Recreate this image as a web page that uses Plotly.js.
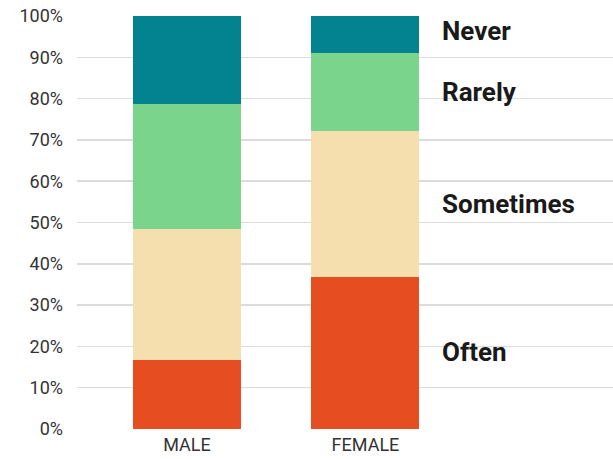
<!DOCTYPE html>
<html><head><meta charset="utf-8">
<script src="https://cdn.plot.ly/plotly-3.0.1.min.js"></script>
<style>html,body{margin:0;padding:0;background:#fff}#chart{width:613px;height:459px}</style>
</head><body><div id="chart"></div>
<script>
var categories = ['MALE', 'FEMALE'];
var seriesNames = ['Often', 'Sometimes', 'Rarely', 'Never'];
var often = [16.6, 36.9];
var sometimes = [31.8, 35.2];
var rarely = [30.3, 19.0];
var never = [21.3, 8.9];
var yTickVals = [0,10,20,30,40,50,60,70,80,90,100];
var yTickText = ['0%','10%','20%','30%','40%','50%','60%','70%','80%','90%','100%'];

var series = [often, sometimes, rarely, never];
var colors = ['#E64D21', '#F6DFAF', '#7BD48C', '#02838F'];
var labelShiftY = [1, 0, 0, 3.5];

var traces = series.map(function(vals, i){
  return {type:'bar', x:categories, y:vals, name:seriesNames[i],
    marker:{color:colors[i], line:{width:0}}, width:0.605, hoverinfo:'none'};
});

var annotations = [];
var cum = 0;
var fi = categories.length - 1;
series.forEach(function(vals, i){
  var mid = cum + vals[fi]/2;
  cum += vals[fi];
  annotations.push({x:categories[fi], y:mid, xref:'x', yref:'y', text:'<b>'+seriesNames[i]+'</b>',
    showarrow:false, xanchor:'left', xshift:75, yshift:labelShiftY[i],
    font:{family:'Roboto, sans-serif', size:26, color:'#1a1a1a'}});
});

var layout = {
  width:613, height:459,
  margin:{l:77, r:0, t:15.5, b:29.5},
  paper_bgcolor:'#fff', plot_bgcolor:'#fff',
  barmode:'stack', showlegend:false,
  xaxis:{range:[-0.616, 2.387], showgrid:false, zeroline:false, showline:false, ticks:'',
    tickfont:{family:'Roboto, sans-serif', size:18, color:'#333'}, ticklabelstandoff:3},
  yaxis:{range:[0,100], tickvals:yTickVals, ticktext:yTickText, showgrid:true, gridcolor:'#dcdcdc', gridwidth:1.5,
    zeroline:false, showline:false, ticks:'', ticklabelstandoff:13,
    tickfont:{family:'Roboto, sans-serif', size:18, color:'#333'}},
  annotations:annotations
};
Plotly.newPlot('chart', traces, layout, {displayModeBar:false, staticPlot:true});
</script></body></html>
